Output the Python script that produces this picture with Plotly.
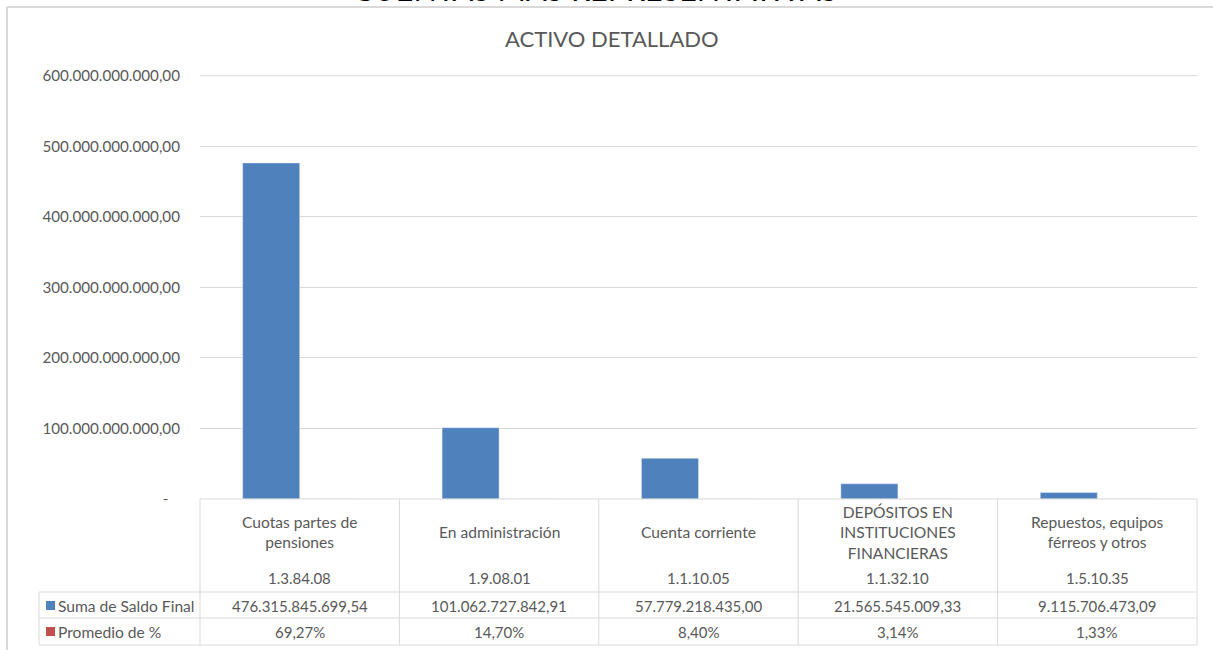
import plotly.graph_objects as go

# ---- data ----
categories = [
    "Cuotas partes de<br>pensiones",
    "En administración",
    "Cuenta corriente",
    "DEPÓSITOS EN<br>INSTITUCIONES<br>FINANCIERAS",
    "Repuestos, equipos<br>férreos y otros",
]
codes = ["1.3.84.08", "1.9.08.01", "1.1.10.05", "1.1.32.10", "1.5.10.35"]
saldo_final = [476315845699.54, 101062727842.91, 57779218435.00, 21565545009.33, 9115706473.09]
promedio_pct = [69.27, 14.70, 8.40, 3.14, 1.33]
y_ticks = [0, 100e9, 200e9, 300e9, 400e9, 500e9, 600e9]
series_names = ["Suma de Saldo Final", "Promedio de %"]
chart_title = "ACTIVO DETALLADO"
top_title = "CUENTAS MAS REPRESENTATIVAS"

# ---- style ----
BLUE = "#4F81BD"
RED = "#C0504D"
TXT = "#595959"
GRID = "#D9D9D9"
FONT = "Lato"

W, H = 1213, 650
L, R, T, B = 200, 16, 75, 151
PW, PH = W - L - R, H - T - B
Y_MAX = 601e9


def es_num(v):
    s = f"{v:,.2f}"
    return s.replace(",", "X").replace(".", ",").replace("X", ".")


def px_x(p):
    return (p - L) / PW


def px_y(p):
    return (H - B - p) / PH


tick_text = [("-" + "\u00a0" * 3) if v == 0 else es_num(v) for v in y_ticks]

n = len(categories)
idx = list(range(n))

fig = go.Figure()
fig.add_trace(go.Bar(x=idx, y=saldo_final, name=series_names[0], marker_color=BLUE))
fig.add_trace(go.Bar(x=idx, y=[p / 100 for p in promedio_pct],
                     name=series_names[1], marker_color=RED))

shapes = []
ann = []

# top gridline (plotly hides the one at the plot edge)
shapes.append(dict(type="line", xref="x domain", yref="y", x0=0, x1=1,
                   y0=y_ticks[-1], y1=y_ticks[-1], line=dict(color=GRID, width=1), layer="below"))

# outer chart border (left + top)
shapes.append(dict(type="line", xref="paper", yref="paper", x0=px_x(7), x1=px_x(W + 5),
                   y0=px_y(7), y1=px_y(7), line=dict(color=GRID, width=2)))
shapes.append(dict(type="line", xref="paper", yref="paper", x0=px_x(7), x1=px_x(7),
                   y0=px_y(7), y1=px_y(H + 5), line=dict(color=GRID, width=2)))

# data table geometry
row_top = 499
hdr_bot = 592
row1_bot = 618
row2_bot = 645
lab_left = 39

line_style = dict(color=GRID, width=1)
shapes.append(dict(type="line", xref="x domain", yref="paper", x0=0, x1=1,
                   y0=px_y(row_top), y1=px_y(row_top), line=line_style))
for yy in (hdr_bot, row1_bot, row2_bot):
    shapes.append(dict(type="line", xref="paper", yref="paper", x0=px_x(lab_left), x1=1,
                       y0=px_y(yy), y1=px_y(yy), line=line_style))
for k in range(n + 1):
    shapes.append(dict(type="line", xref="x domain", yref="paper", x0=k / n, x1=k / n,
                       y0=px_y(row_top), y1=px_y(row2_bot), line=line_style))
shapes.append(dict(type="line", xref="paper", yref="paper", x0=px_x(lab_left), x1=px_x(lab_left),
                   y0=px_y(hdr_bot), y1=px_y(row2_bot), line=line_style))

fs_txt = 15.6
fs_num = 15
for i in idx:
    xc = (i + 0.5) / n
    ann.append(dict(xref="x domain", yref="paper", x=xc, y=px_y(532), text=categories[i],
                    showarrow=False, xanchor="center", yanchor="middle",
                    font=dict(family=FONT, size=fs_txt, color=TXT)))
    ann.append(dict(xref="x domain", yref="paper", x=xc, y=px_y(578), text=codes[i],
                    showarrow=False, xanchor="center", yanchor="middle",
                    font=dict(family=FONT, size=fs_num, color=TXT)))
    ann.append(dict(xref="x domain", yref="paper", x=xc, y=px_y(605.5), text=es_num(saldo_final[i]),
                    showarrow=False, xanchor="center", yanchor="middle",
                    font=dict(family=FONT, size=fs_num, color=TXT)))
    ann.append(dict(xref="x domain", yref="paper", x=xc, y=px_y(631.5),
                    text=es_num(promedio_pct[i]) + "%",
                    showarrow=False, xanchor="center", yanchor="middle",
                    font=dict(family=FONT, size=fs_num, color=TXT)))

for name, col, yc in ((series_names[0], BLUE, 605.5), (series_names[1], RED, 631.5)):
    shapes.append(dict(type="rect", xref="paper", yref="paper", x0=px_x(46), x1=px_x(55),
                       y0=px_y(yc - 4.5), y1=px_y(yc + 4.5), fillcolor=col, line=dict(width=0)))
    ann.append(dict(xref="paper", yref="paper", x=px_x(56), y=px_y(yc), text=name,
                    showarrow=False, xanchor="left", yanchor="middle",
                    font=dict(family=FONT, size=fs_txt, color=TXT)))

# titles
ann.append(dict(xref="paper", yref="paper", x=px_x(612), y=px_y(39), text=chart_title,
                showarrow=False, xanchor="center", yanchor="middle",
                font=dict(family=FONT, size=22, color=TXT)))
ann.append(dict(xref="paper", yref="paper", x=px_x(595), y=px_y(-11), text=top_title,
                showarrow=False, xanchor="center", yanchor="middle",
                font=dict(family=FONT, size=30.5, color="#000000")))

fig.update_layout(
    width=W, height=H,
    margin=dict(l=L, r=R, t=T, b=B, pad=0),
    paper_bgcolor="white", plot_bgcolor="white",
    barmode="group", bargap=0.428, bargroupgap=0,
    showlegend=False,
    shapes=shapes, annotations=ann,
    font=dict(family=FONT, color=TXT),
)
fig.update_xaxes(range=[-0.5, n - 0.5], showticklabels=False, showgrid=False,
                 zeroline=False, showline=False, ticks="")
fig.update_yaxes(range=[0, Y_MAX], tickvals=y_ticks, ticktext=tick_text,
                 showgrid=True, gridcolor=GRID, gridwidth=1, zeroline=False, showline=False,
                 ticks="outside", ticklen=16, tickcolor="rgba(0,0,0,0)",
                 tickfont=dict(family=FONT, size=15.2, color=TXT))

fig.write_html("out.html", config={"displayModeBar": False},
               post_script="document.body.style.margin='0';")
